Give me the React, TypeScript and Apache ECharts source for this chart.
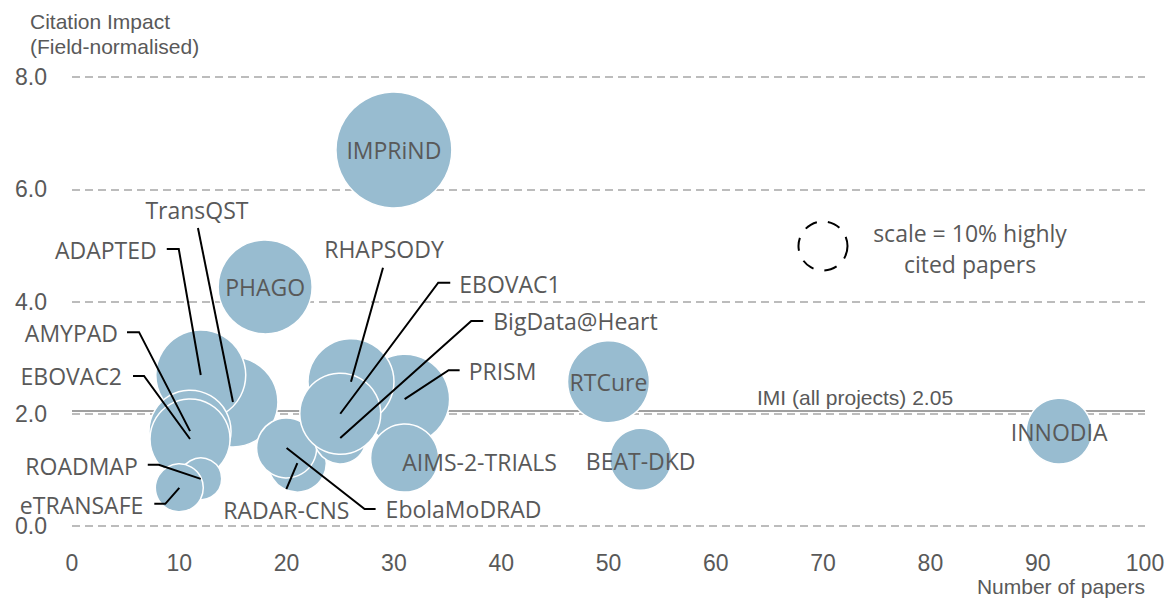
import React, { useEffect, useRef } from "react";
import * as echarts from "echarts";

// ---- data ----
const projects = [
  "TransQST", "ADAPTED", "AMYPAD", "EBOVAC2", "ROADMAP", "eTRANSAFE",
  "RADAR-CNS", "EbolaMoDRAD", "PRISM", "BigData@Heart", "RHAPSODY", "EBOVAC1",
  "AIMS-2-TRIALS", "PHAGO", "IMPRiND", "RTCure", "BEAT-DKD", "INNODIA",
];
const papers = [15, 12, 11, 11, 12, 10, 21, 20, 31, 25, 26, 25, 31, 18, 30, 50, 53, 92];
const citationImpact = [2.21, 2.69, 1.69, 1.55, 0.84, 0.68, 1.12, 1.39, 2.26, 1.57, 2.57, 2.0, 1.21, 4.26, 6.7, 2.57, 1.19, 1.69];
const highlyCitedPct = [33.7, 33.7, 28.0, 26.7, 7.3, 9.6, 14.0, 15.0, 33.7, 11.3, 30.8, 27.3, 19.3, 36.8, 56.0, 28.0, 16.0, 18.1];
const IMI_AVG = 2.05;
const LEGEND_PCT = 10;
const yTicks = [0, 2, 4, 6, 8];

// ---- layout (pixel offsets from bubble centre) ----
type Lab = { t: [number, number]; align: string; line?: [number, number][] };
const labelLayout: Record<string, Lab> = {
  TransQST: { t: [-36, -192], align: "center", line: [[-35, -174]] },
  ADAPTED: { t: [-44, -125], align: "right", line: [[-34, -126], [-22, -126]] },
  AMYPAD: { t: [-72, -98], align: "right", line: [[-63, -99], [-51, -99]] },
  EBOVAC2: { t: [-68, -63], align: "right", line: [[-57, -63], [-46, -63]] },
  ROADMAP: { t: [-63, -13], align: "right", line: [[-53, -14], [-42, -14]] },
  eTRANSAFE: { t: [-36, 17], align: "right", line: [[-25, 16], [-14, 16]] },
  "RADAR-CNS": { t: [-11, 47], align: "center", line: [[-11, 26]] },
  EbolaMoDRAD: { t: [99, 61], align: "left", line: [[89, 61], [78, 61]] },
  PRISM: { t: [64, -28], align: "left", line: [[55, -29], [44, -29]] },
  "BigData@Heart": { t: [153, -117], align: "left", line: [[143, -117], [131, -117]] },
  RHAPSODY: { t: [33, -133], align: "center", line: [[32, -114]] },
  EBOVAC1: { t: [119, -130], align: "left", line: [[110, -131], [98, -131]] },
  "AIMS-2-TRIALS": { t: [75, 4], align: "center" },
  PHAGO: { t: [0, 0], align: "center" },
  IMPRiND: { t: [0, 0], align: "center" },
  RTCure: { t: [0, 0], align: "center" },
  "BEAT-DKD": { t: [0, 2], align: "center" },
  INNODIA: { t: [0, 1], align: "center" },
};

const LEGEND_DIAM = 49; // px diameter for LEGEND_PCT
const sizeOf = (pct: number) => LEGEND_DIAM * Math.sqrt(pct / LEGEND_PCT);

const GREY = "#595959";
const LABEL_FONT = "'Open Sans', 'Noto Sans', sans-serif";
const AXIS_FONT = "'Liberation Sans', Arial, sans-serif";
const LABEL_SIZE = 23;

export default function App() {
  const ref = useRef<HTMLDivElement>(null);
  useEffect(() => {
    if (!ref.current) return;
    const chart = echarts.init(ref.current, null, { renderer: "svg" });
    const scatterData = projects.map((n, i) => [papers[i], citationImpact[i], highlyCitedPct[i], i]);
    chart.setOption({
      animation: false,
      backgroundColor: "#fff",
      title: {
        text: "Citation Impact\n(Field-normalised)",
        left: 30,
        top: 9,
        padding: 0,
        textStyle: { fontSize: 21, fontWeight: "normal", color: GREY, fontFamily: AXIS_FONT, lineHeight: 25 },
      },
      grid: { left: 72, right: 25, top: 77, bottom: 72 },
      xAxis: {
        type: "value",
        min: 0,
        max: 100,
        interval: 10,
        axisLine: { show: false },
        axisTick: { show: false },
        splitLine: { show: false },
        axisLabel: { color: GREY, fontSize: 23, fontFamily: AXIS_FONT, margin: 25 },
      },
      yAxis: {
        type: "value",
        min: yTicks[0],
        max: yTicks[yTicks.length - 1],
        interval: 2,
        axisLine: { show: false },
        axisTick: { show: false },
        splitLine: { show: true, lineStyle: { color: "#A6A6A6", width: 1.5, type: [8, 5] } },
        axisLabel: { color: GREY, fontSize: 23, fontFamily: AXIS_FONT, margin: 25, formatter: (v: number) => v.toFixed(1) },
      },
      graphic: [
        {
          type: "text",
          right: 25,
          top: 576,
          style: { text: "Number of papers", fill: GREY, fontSize: 21, fontFamily: AXIS_FONT },
        },
        {
          type: "circle",
          x: 823,
          y: 246,
          shape: { cx: 0, cy: 0, r: sizeOf(LEGEND_PCT) / 2 },
          style: { fill: "none", stroke: "#000", lineWidth: 2, lineDash: [13, 11] },
        },
        {
          type: "text",
          x: 970,
          y: 248,
          style: {
            text: "scale = 10% highly\ncited papers",
            fill: GREY,
            fontSize: LABEL_SIZE,
            fontFamily: LABEL_FONT,
            align: "center",
            verticalAlign: "middle",
            lineHeight: 31,
          },
        },
      ],
      series: [
        {
          type: "line",
          data: [],
          z: 1,
          markLine: {
            z: 1,
            silent: true,
            symbol: "none",
            lineStyle: { color: "#A0A0A0", width: 2, type: "solid" },
            label: {
              position: "insideStartTop",
              distance: [685, 3],
              formatter: "IMI (all projects) " + IMI_AVG.toFixed(2),
              color: GREY,
              fontSize: 21,
              fontFamily: AXIS_FONT,
            },
            data: [{ yAxis: IMI_AVG }],
          },
        },
        {
          type: "scatter",
          z: 3,
          data: scatterData,
          symbolSize: (v: number[]) => sizeOf(v[2]),
          itemStyle: { color: "#98BCD0", borderColor: "#fff", borderWidth: 1.5, opacity: 1 },
          silent: true,
        },
        {
          type: "custom",
          z: 5,
          clip: false,
          silent: true,
          data: scatterData,
          renderItem: (params: any, api: any) => {
            const i = api.value(3);
            const c = api.coord([api.value(0), api.value(1)]);
            const L = labelLayout[projects[i]];
            const children: any[] = [];
            if (L.line) {
              const pts = L.line.map((p) => [c[0] + p[0], c[1] + p[1]]);
              pts.push([c[0], c[1]]);
              children.push({
                type: "polyline",
                shape: { points: pts },
                style: { stroke: "#000", lineWidth: 2, fill: "none" },
              });
            }
            children.push({
              type: "text",
              x: c[0] + L.t[0],
              y: c[1] + L.t[1],
              style: {
                text: projects[i],
                fill: GREY,
                fontSize: LABEL_SIZE,
                fontFamily: LABEL_FONT,
                align: L.align,
                verticalAlign: "middle",
              },
            });
            return { type: "group", children };
          },
        },
      ],
    });
    return () => chart.dispose();
  }, []);
  return (
    <div
      ref={ref}
      style={{ position: "absolute", left: 0, top: 0, width: 1170, height: 598 }}
    />
  );
}
